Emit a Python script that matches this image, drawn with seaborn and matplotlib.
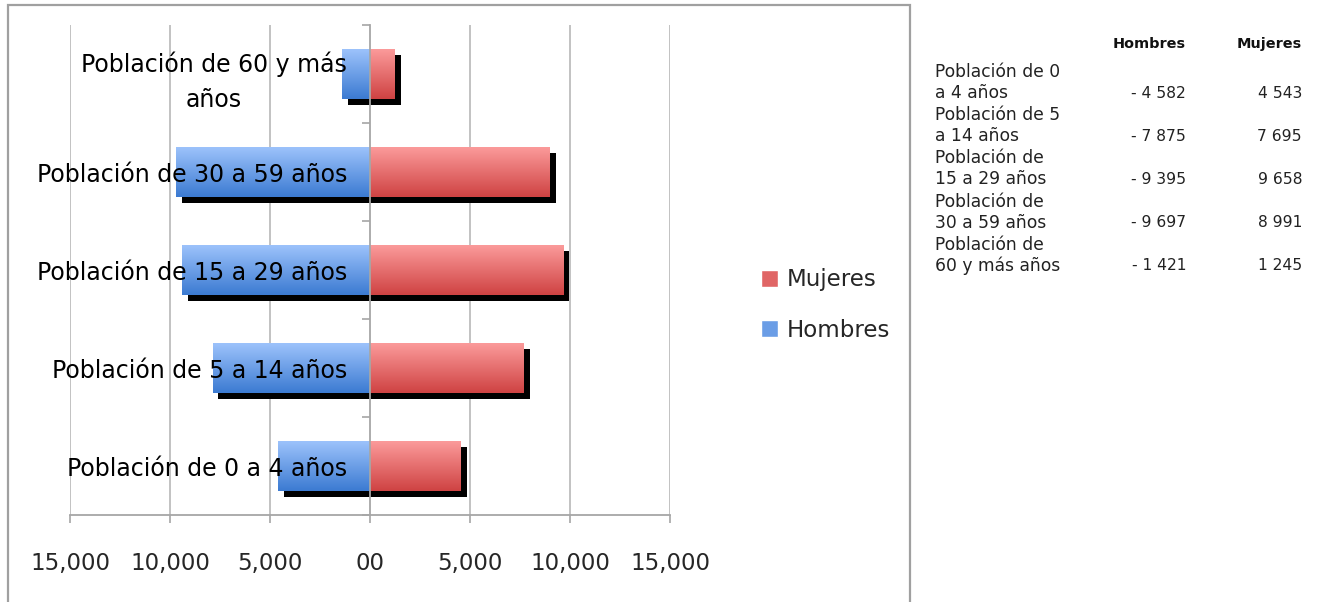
import numpy as np
import pandas as pd
import matplotlib
matplotlib.use("Agg")
import matplotlib.pyplot as plt
import matplotlib.patheffects as pe
from matplotlib.patches import Rectangle, Patch
from matplotlib.colors import LinearSegmentedColormap
import seaborn as sns

# Population by age group (persons)
grupos = [
    "Población de 0 a 4 años",
    "Población de 5 a 14 años",
    "Población de 15 a 29 años",
    "Población de 30 a 59 años",
    "Población de 60 y más años",
]
grupos_tabla = [
    "Población de 0\na 4 años",
    "Población de 5\na 14 años",
    "Población de\n15 a 29 años",
    "Población de\n30 a 59 años",
    "Población de\n60 y más años",
]
etiquetas_eje = [
    "Población de 0 a 4 años",
    "Población de 5 a 14 años",
    "Población de 15 a 29 años",
    "Población de 30 a 59 años",
    "Población de 60 y más\naños",
]
hombres = [-4582, -7875, -9395, -9697, -1421]
mujeres = [4543, 7695, 9658, 8991, 1245]
xticks = [-15000, -10000, -5000, 0, 5000, 10000, 15000]
xtick_labels = ["15,000", "10,000", "5,000", "00", "5,000", "10,000", "15,000"]

df = pd.DataFrame({
    "grupo": grupos * 2,
    "sexo": ["Hombres"] * len(grupos) + ["Mujeres"] * len(grupos),
    "valor": hombres + mujeres,
})

orden = grupos[::-1]
etiquetas_orden = etiquetas_eje[::-1]

azul_top, azul_bot = "#9cc2fb", "#3c7bd2"
rojo_top, rojo_bot = "#fb9a9a", "#cf4343"

sns.set_style("white")
plt.rcParams["font.family"] = ["DejaVu Sans"]

W, H = 1317, 602
fig = plt.figure(figsize=(W / 100, H / 100), dpi=100)
ax = fig.add_axes([70 / W, (H - 515) / H, 600 / W, 490 / H])
ax.set_axisbelow(False)

sns.barplot(data=df, y="grupo", x="valor", hue="sexo", order=orden,
            hue_order=["Hombres", "Mujeres"], dodge=False, width=0.51,
            palette={"Hombres": azul_bot, "Mujeres": rojo_bot},
            legend=False, ax=ax, zorder=1.5)

grad = np.linspace(0, 1, 64).reshape(-1, 1)
cmap_azul = LinearSegmentedColormap.from_list("az", [azul_top, azul_bot])
cmap_rojo = LinearSegmentedColormap.from_list("ro", [rojo_top, rojo_bot])

shadow = [pe.SimplePatchShadow(offset=(4.3, -4.3), shadow_rgbFace="black", alpha=1.0),
          pe.Normal()]
for p in list(ax.patches):
    if not isinstance(p, Rectangle):
        continue
    x0, y0, w, h = p.get_x(), p.get_y(), p.get_width(), p.get_height()
    if w == 0:
        continue
    p.set_path_effects(shadow)
    p.set_edgecolor("none")
    cm = cmap_azul if w < 0 else cmap_rojo
    left, right = min(x0, x0 + w), max(x0, x0 + w)
    im = ax.imshow(grad, cmap=cm, aspect="auto", origin="upper",
                   extent=(left, right, y0 + h, y0), zorder=1.6,
                   interpolation="bilinear")
    im.set_clip_path(p)

ax.set_xlim(-15000, 15000)
ax.set_ylim(4.5, -0.5)
ax.set_xlabel("")
ax.set_ylabel("")

# Vertical gridlines
for xv in xticks:
    if xv != 0:
        ax.axvline(xv, color="#bdbdbd", lw=1.3, zorder=1)

for s in ["top", "right"]:
    ax.spines[s].set_visible(False)
ax.spines["left"].set_position(("data", 0))
ax.spines["left"].set_color("#a6a6a6")
ax.spines["left"].set_linewidth(1.3)
ax.spines["bottom"].set_color("#a6a6a6")
ax.spines["bottom"].set_linewidth(1.3)

ax.set_yticks(np.arange(-0.5, 5.0, 1.0), labels=[""] * 6)
ax.set_yticks(range(5), labels=etiquetas_orden, minor=True)
ax.tick_params(axis="y", which="major", direction="out", length=5.8,
               color="#a6a6a6", width=1.2, left=True)
ax.tick_params(axis="y", which="minor", length=0, pad=16.5,
               labelsize=17, labelcolor="black")
for t in ax.get_yticklabels(minor=True):
    t.set_multialignment("center")
    t.set_linespacing(1.55)

ax.set_xticks(xticks, labels=xtick_labels)
ax.tick_params(axis="x", direction="out", length=5.8, color="#a6a6a6",
               width=1.2, pad=21, labelsize=16.5, bottom=True)

# Legend
handles = [Patch(facecolor="#e06565", label="Mujeres"),
           Patch(facecolor="#6a9de6", label="Hombres")]
fig.legend(handles=handles, loc="center left",
           bbox_to_anchor=(740 / W, 1 - 305 / H), frameon=False,
           fontsize=16.5, handlelength=0.75, handleheight=0.75,
           handletextpad=0.4, labelspacing=1.2)

# Chart frame
fig.add_artist(Rectangle((8 / W, -0.02), (910 - 8) / W, 1.02 - 5 / H,
                         transform=fig.transFigure, fill=False,
                         edgecolor="#a0a0a0", lw=1.6))

# Data table
tf = ["DejaVu Sans"]
fig.text(1186 / W, 1 - 44 / H, "Hombres", ha="right", va="center",
         fontsize=10.4, fontweight="bold", family=tf, color="#111111")
fig.text(1302 / W, 1 - 44 / H, "Mujeres", ha="right", va="center",
         fontsize=10.4, fontweight="bold", family=tf, color="#111111")


def fmt(v):
    s = f"{abs(v):,}".replace(",", " ")
    return ("- " + s) if v < 0 else s


for i, (lab, hv, mv) in enumerate(zip(grupos_tabla, hombres, mujeres)):
    yb = 93 + i * 43.2
    l1, l2 = lab.split("\n")
    kw = dict(va="center", family=tf, color="#222222")
    fig.text(935 / W, 1 - (yb - 21) / H, l1, ha="left", fontsize=12.3, **kw)
    fig.text(935 / W, 1 - yb / H, l2, ha="left", fontsize=12.3, **kw)
    fig.text(1186 / W, 1 - yb / H, fmt(hv), ha="right", fontsize=11.2, **kw)
    fig.text(1302 / W, 1 - yb / H, fmt(mv), ha="right", fontsize=11.2, **kw)

fig.savefig("out.png", dpi=100)
